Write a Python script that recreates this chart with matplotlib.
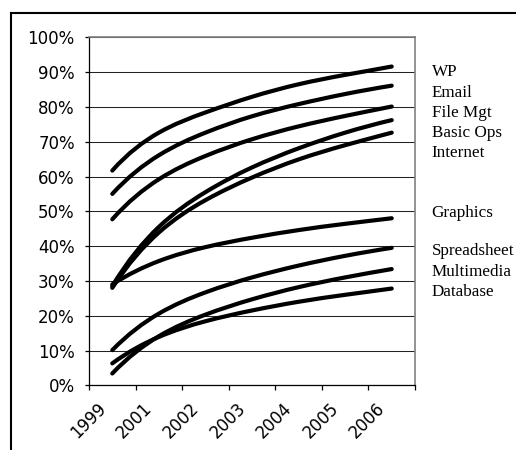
import numpy as np
import matplotlib
matplotlib.use('Agg')
import matplotlib.pyplot as plt
import matplotlib.transforms as mtransforms
from matplotlib.path import Path
from matplotlib.patches import PathPatch
from matplotlib.lines import Line2D
from matplotlib.ticker import PercentFormatter, FixedLocator

# survey results, percent of respondents per year
years = ['1999', '2001', '2002', '2003', '2004', '2005', '2006']

wp = [61.7, 72.6, 78.4, 82.9, 86.5, 89.2, 91.6]
email = [55.0, 66.1, 72.6, 77.3, 80.8, 83.7, 86.1]
file_mgt = [47.7, 59.2, 65.9, 70.7, 74.4, 77.4, 80.1]
basic_ops = [28.5, 45.5, 55.5, 62.6, 68.1, 72.6, 76.2]
internet = [28.0, 43.9, 53.2, 59.7, 64.9, 69.0, 72.6]
graphics = [29.0, 35.7, 39.7, 42.4, 44.6, 46.4, 48.0]
spreadsheet = [10.1, 20.6, 26.7, 31.0, 34.4, 37.2, 39.5]
multimedia = [3.4, 14.1, 20.3, 24.7, 28.2, 31.0, 33.4]
database = [6.3, 13.9, 18.4, 21.5, 24.0, 26.0, 27.8]

series = [wp, email, file_mgt, basic_ops, internet,
          graphics, spreadsheet, multimedia, database]
names = ['WP', 'Email', 'File Mgt', 'Basic Ops', 'Internet',
         'Graphics', 'Spreadsheet', 'Multimedia', 'Database']
# where the name labels sit on the right (y in percent)
name_y = [90.1, 84.1, 78.3, 72.6, 66.8, 49.6, 38.6, 32.6, 26.9]


def spline_slopes(y):
    """Slopes of a not-a-knot cubic spline through equally spaced points."""
    y = np.asarray(y, dtype=float)
    n = len(y)
    d = np.diff(y)
    A = np.zeros((n, n))
    b = np.zeros(n)
    A[0, 0], A[0, 2] = 1, -1
    b[0] = 2 * (d[0] - d[1])
    for i in range(1, n - 1):
        A[i, i - 1:i + 2] = [1, 4, 1]
        b[i] = 3 * (y[i + 1] - y[i - 1])
    A[-1, -1], A[-1, -3] = 1, -1
    b[-1] = 2 * (d[-1] - d[-2])
    return np.linalg.solve(A, b)


def smooth_path(xs, ys):
    """Cubic Bezier path through the points (smoothed line)."""
    m = spline_slopes(ys)
    verts = [(xs[0], ys[0])]
    codes = [Path.MOVETO]
    for i in range(len(xs) - 1):
        verts += [(xs[i] + 1 / 3, ys[i] + m[i] / 3),
                  (xs[i + 1] - 1 / 3, ys[i + 1] - m[i + 1] / 3),
                  (xs[i + 1], ys[i + 1])]
        codes += [Path.CURVE4] * 3
    return Path(verts, codes)


fig = plt.figure(figsize=(5.16, 4.5), dpi=100)
ax = fig.add_axes([89 / 516, 1 - 385.3 / 450, 326 / 516, 348 / 450])

x = np.arange(len(years))
for vals in series:
    ax.add_patch(PathPatch(smooth_path(x, vals), fill=False, edgecolor='black',
                           lw=3.0, capstyle='round', joinstyle='round', zorder=3))

ax.set_xlim(-0.5, len(years) - 0.5)
ax.set_ylim(0, 100)

# y axis
ax.set_yticks(np.arange(0, 101, 10))
ax.yaxis.set_major_formatter(PercentFormatter(xmax=100, decimals=0))
ax.tick_params(axis='y', direction='out', length=3.2, width=0.9,
               labelsize=12, pad=7)
ax.yaxis.grid(True, color='#222222', lw=0.75)
ax.set_axisbelow(True)

# x axis: ticks between categories, labels under each category
ax.xaxis.set_major_locator(FixedLocator(np.arange(-0.5, len(years), 1.0)))
ax.xaxis.set_minor_locator(FixedLocator(x))
ax.set_xticklabels([], minor=False)
ax.set_xticklabels(years, minor=True, rotation=45, ha='right',
                   rotation_mode='default')
ax.tick_params(axis='x', which='major', direction='out', length=3.6, width=0.9)
ax.tick_params(axis='x', which='minor', length=0, labelsize=12, pad=10)
shift = mtransforms.ScaledTranslation(-3 / 100, 0, fig.dpi_scale_trans)
for lbl in ax.get_xticklabels(minor=True):
    lbl.set_transform(lbl.get_transform() + shift)

for side in ['top', 'right']:
    ax.spines[side].set_color('#808080')
    ax.spines[side].set_linewidth(1.2)
for side in ['left', 'bottom']:
    ax.spines[side].set_color('black')
    ax.spines[side].set_linewidth(0.9)

# series names to the right of the plot
trans = mtransforms.blended_transform_factory(ax.transAxes, ax.transData)
for name, yv in zip(names, name_y):
    ax.text(1.051, yv, name, transform=trans, ha='left', va='center',
            fontsize=12.3, family='Liberation Serif', clip_on=False)

# outer chart frame
fig.add_artist(Line2D([10.5 / 516, 10.5 / 516], [0, 1 - 12.5 / 450],
                      transform=fig.transFigure, color='black', lw=1.5))
fig.add_artist(Line2D([10.5 / 516, 1], [1 - 12.5 / 450, 1 - 12.5 / 450],
                      transform=fig.transFigure, color='black', lw=1.5))

fig.savefig('out.png', dpi=100)
